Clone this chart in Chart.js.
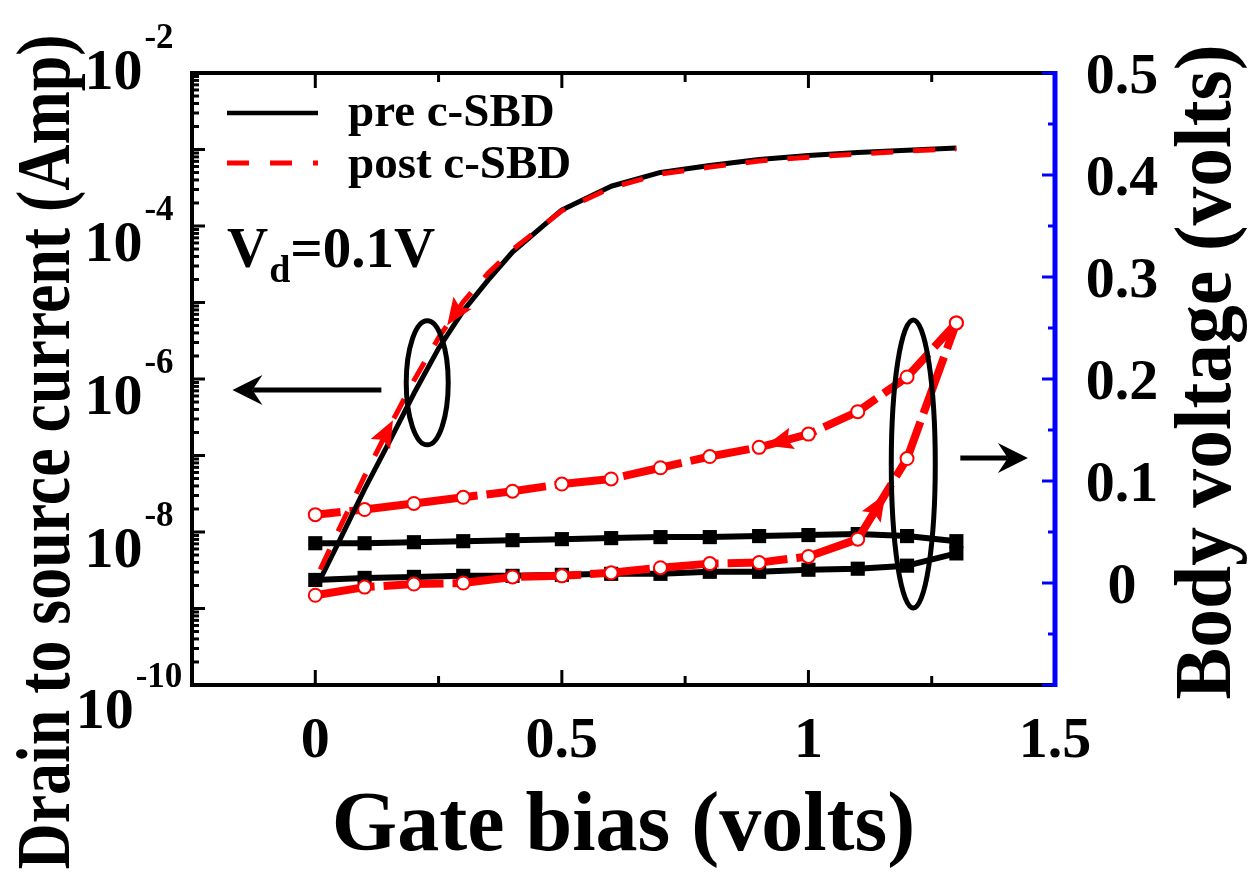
<!DOCTYPE html>
<html>
<head>
<meta charset="utf-8">
<title>Gate sweep before / after c-SBD</title>
<script src="https://cdn.jsdelivr.net/npm/chart.js@4.4.1/dist/chart.umd.min.js"></script>
<style>
  html, body { margin: 0; padding: 0; background: #fff; }
  #chart { display: block; }
</style>
</head>
<body>
<canvas id="chart" width="1255" height="883"></canvas>
<script>
// Id-Vg at Vd = 0.1 V (left, log) and floating body voltage (right),
// measured before and after the c-SBD stress.

// drain current sweep
const gateCur = [0.01, 0.05, 0.1, 0.15, 0.2, 0.25, 0.3, 0.35, 0.4, 0.5, 0.6, 0.7, 0.8, 0.9, 1.0, 1.1, 1.2, 1.3];
const idsPre  = [2.40e-9, 7.94e-9, 3.63e-8, 1.51e-7, 6.46e-7, 2.51e-6, 7.76e-6, 1.95e-5, 4.57e-5,
                 1.62e-4, 3.31e-4, 5.01e-4, 6.17e-4, 7.41e-4, 8.32e-4, 9.12e-4, 9.77e-4, 1.05e-3];
const idsPost = [3.24e-9, 1.15e-8, 5.37e-8, 2.34e-7, 9.55e-7, 3.47e-6, 1.02e-5, 2.40e-5, 4.90e-5,
                 1.58e-4, 3.16e-4, 4.79e-4, 5.89e-4, 7.08e-4, 7.94e-4, 8.71e-4, 9.55e-4, 1.02e-3];

// body voltage: forward sweep (up) and reverse sweep (down), both listed by gate bias
const gateVb    = [0, 0.1, 0.2, 0.3, 0.4, 0.5, 0.6, 0.7, 0.8, 0.9, 1.0, 1.1, 1.2, 1.3];
const vbPreFwd  = [0.003, 0.005, 0.006, 0.007, 0.007, 0.008, 0.009, 0.009, 0.011, 0.011, 0.013, 0.014, 0.017, 0.029];
const vbPreRev  = [0.039, 0.039, 0.040, 0.041, 0.042, 0.043, 0.044, 0.045, 0.045, 0.046, 0.047, 0.048, 0.046, 0.041];
const vbPostFwd = [-0.012, -0.004, -0.001, 0.000, 0.006, 0.007, 0.010, 0.015, 0.019, 0.020, 0.026, 0.043, 0.122, 0.255];
const vbPostRev = [0.067, 0.072, 0.078, 0.084, 0.090, 0.097, 0.102, 0.113, 0.124, 0.133, 0.146, 0.168, 0.202, 0.255];

// axis ticks
const xTickValues  = [0, 0.5, 1, 1.5];
const xTickLabels  = ['0', '0.5', '1', '1.5'];
const leftTickExps = [-2, -4, -6, -8, -10];
const rightTickValues = [0, 0.1, 0.2, 0.3, 0.4, 0.5];
const rightTickLabels = ['0', '0.1', '0.2', '0.3', '0.4', '0.5'];

const seriesNames = ['pre c-SBD', 'post c-SBD'];

const RED = '#ff0000';
const BLUE = '#0000ff';
const SERIF = '"Liberation Serif", "Times New Roman", serif';
const bold = px => `bold ${px}px ${SERIF}`;

const pts = (xs, ys) => xs.map((x, i) => ({ x, y: ys[i] }));
const loop = (xs, up, down) => pts(xs, up).concat(pts(xs, down).reverse());

// direction arrows sitting on the curves: dataset index, segment start, fraction, sense
const curveArrows = [
    { ds: 0, seg: 5, t: 0.35, sense: -1 },
    { ds: 0, seg: 3, t: 0.15, sense: 1 },
    { ds: 2, seg: 17, t: 0.86, sense: 1 },
    { ds: 2, seg: 11, t: 0.56, sense: 1 },
];

function arrowHead(ctx, tx, ty, ux, uy, len, half, notch) {
    const bx = tx - ux * len, by = ty - uy * len;
    const nx = -uy, ny = ux;
    ctx.beginPath();
    ctx.moveTo(tx, ty);
    ctx.lineTo(bx + nx * half, by + ny * half);
    ctx.lineTo(tx - ux * (len - notch), ty - uy * (len - notch));
    ctx.lineTo(bx - nx * half, by - ny * half);
    ctx.closePath();
    ctx.fill();
}

// centred text squeezed (or stretched) to a given run length
function fittedText(ctx, text, px, length) {
    ctx.font = bold(px);
    const w = ctx.measureText(text).width;
    ctx.save();
    ctx.scale(length / w, 1);
    ctx.textAlign = 'center';
    ctx.fillText(text, 0, 0);
    ctx.restore();
}

const figure = {
    id: 'figure',
    beforeDraw(chart) {
        const { ctx, width, height } = chart;
        ctx.save();
        ctx.fillStyle = '#fff';
        ctx.fillRect(0, 0, width, height);
        ctx.restore();
    },
    afterDatasetsDraw(chart) {
        const { ctx, chartArea: a } = chart;
        const { x, yI, yV } = chart.scales;
        ctx.save();

        // arrows on the curves
        ctx.fillStyle = RED;
        for (const ar of curveArrows) {
            const d = chart.getDatasetMeta(ar.ds).data;
            const p0 = d[ar.seg], p1 = d[ar.seg + 1];
            const tx = p0.x + (p1.x - p0.x) * ar.t;
            const ty = p0.y + (p1.y - p0.y) * ar.t;
            const ux = (p1.x - p0.x) * ar.sense, uy = (p1.y - p0.y) * ar.sense;
            const n = Math.hypot(ux, uy);
            arrowHead(ctx, tx, ty, ux / n, uy / n, 27, 11, 5);
        }

        // ellipses grouping the curves with their axis
        ctx.strokeStyle = '#000';
        ctx.lineWidth = 5;
        ctx.beginPath();
        ctx.ellipse(x.getPixelForValue(0.227), yI.getPixelForValue(8.9e-7), 21, 62, 0, 0, Math.PI * 2);
        ctx.stroke();
        ctx.beginPath();
        ctx.ellipse(x.getPixelForValue(1.2126), yV.getPixelForValue(0.1167), 22, 144, 0, 0, Math.PI * 2);
        ctx.stroke();

        // pointers to the left and right axes
        ctx.fillStyle = '#000';
        ctx.lineWidth = 5;
        const ly = yI.getPixelForValue(7.2e-7);
        const lx0 = x.getPixelForValue(0.134), lx1 = x.getPixelForValue(-0.168);
        ctx.beginPath(); ctx.moveTo(lx0, ly); ctx.lineTo(lx1 + 20, ly); ctx.stroke();
        arrowHead(ctx, lx1, ly, -1, 0, 30, 15, 10);
        const ry = yV.getPixelForValue(0.1225);
        const rx0 = x.getPixelForValue(1.308), rx1 = x.getPixelForValue(1.445);
        ctx.beginPath(); ctx.moveTo(rx0, ry); ctx.lineTo(rx1 - 20, ry); ctx.stroke();
        arrowHead(ctx, rx1, ry, 1, 0, 30, 15, 10);

        // frame
        ctx.lineCap = 'butt';
        ctx.strokeStyle = '#000';
        ctx.lineWidth = 4;
        ctx.beginPath();
        ctx.moveTo(a.right, a.top); ctx.lineTo(a.left, a.top);
        ctx.lineTo(a.left, a.bottom); ctx.lineTo(a.right, a.bottom);
        ctx.stroke();

        // x ticks, bottom and top, pointing inward
        ctx.lineWidth = 3;
        for (let v = -0.25; v <= 1.5001; v += 0.25) {
            const px = x.getPixelForValue(v);
            const major = Math.abs(v / 0.5 - Math.round(v / 0.5)) < 1e-6;
            const len = major ? 15 : 9;
            ctx.beginPath();
            ctx.moveTo(px, a.bottom); ctx.lineTo(px, a.bottom - len);
            ctx.moveTo(px, a.top); ctx.lineTo(px, a.top + len);
            ctx.stroke();
        }

        // log ticks on the left axis
        for (let e = -10; e <= -2; e++) {
            for (let k = 1; k <= 9; k++) {
                const v = k * Math.pow(10, e);
                if (v > 1.0001e-2) break;
                const py = yI.getPixelForValue(v);
                ctx.beginPath();
                ctx.moveTo(a.left, py); ctx.lineTo(a.left + (k === 1 ? 13 : 7), py);
                ctx.stroke();
            }
        }

        // right axis in blue
        ctx.strokeStyle = BLUE;
        for (let i = -2; i <= 10; i++) {
            const py = yV.getPixelForValue(i * 0.05);
            ctx.beginPath();
            ctx.moveTo(a.right, py); ctx.lineTo(a.right - (i % 2 === 0 ? 13 : 7), py);
            ctx.stroke();
        }
        ctx.lineWidth = 5;
        ctx.beginPath();
        ctx.moveTo(a.right, a.top - 2); ctx.lineTo(a.right, a.bottom + 2);
        ctx.stroke();

        // tick labels
        ctx.fillStyle = '#000';
        ctx.textBaseline = 'alphabetic';
        ctx.font = bold(58);
        ctx.textAlign = 'center';
        xTickValues.forEach((v, i) => {
            ctx.fillText(xTickLabels[i], x.getPixelForValue(v), a.bottom + 72);
        });
        rightTickValues.forEach((v, i) => {
            ctx.fillText(rightTickLabels[i], 1122, yV.getPixelForValue(v) + 20);
        });
        const shift = { '-2': 16, '-10': 43 };
        ctx.textAlign = 'left';
        for (const e of leftTickExps) {
            const base = yI.getPixelForValue(Math.pow(10, e)) + (shift[e] ?? 35);
            const sup = '-' + Math.abs(e);
            ctx.font = bold(58);
            const w10 = ctx.measureText('10').width;
            ctx.font = bold(35);
            const ws = ctx.measureText(sup).width;
            const x0 = 129 - (w10 + 2 + ws) / 2;
            ctx.font = bold(58);
            ctx.fillText('10', x0, base);
            ctx.font = bold(35);
            ctx.fillText(sup, x0 + w10 + 2, base - 41);
        }

        // axis titles
        ctx.font = bold(84);
        ctx.textAlign = 'center';
        ctx.fillText('Gate bias (volts)', (a.left + a.right) / 2, 850);

        ctx.save();
        ctx.translate(69, 452);
        ctx.rotate(-Math.PI / 2);
        fittedText(ctx, 'Drain to source current (Amp)', 76, 835);
        ctx.restore();

        ctx.save();
        ctx.translate(1230, 372);
        ctx.rotate(-Math.PI / 2);
        fittedText(ctx, 'Body voltage (volts)', 80, 655);
        ctx.restore();

        // legend
        ctx.lineCap = 'butt';
        ctx.strokeStyle = '#000';
        ctx.lineWidth = 4.5;
        ctx.beginPath(); ctx.moveTo(227, 113); ctx.lineTo(318, 113); ctx.stroke();
        ctx.strokeStyle = RED;
        ctx.lineWidth = 5;
        ctx.setLineDash([22, 21]);
        ctx.beginPath(); ctx.moveTo(227, 163); ctx.lineTo(318, 163); ctx.stroke();
        ctx.setLineDash([]);
        ctx.font = bold(47);
        ctx.textAlign = 'left';
        ctx.fillText(seriesNames[0], 348, 126);
        ctx.fillText(seriesNames[1], 348, 178);

        // bias condition
        ctx.font = bold(57);
        ctx.fillText('V', 227, 267);
        let cx = 227 + ctx.measureText('V').width + 1;
        ctx.font = bold(38);
        ctx.fillText('d', cx, 282);
        cx += ctx.measureText('d').width;
        ctx.font = bold(57);
        ctx.fillText('=0.1V', cx, 267);

        ctx.restore();
    }
};

new Chart(document.getElementById('chart'), {
    type: 'line',
    data: {
        datasets: [
            {
                label: seriesNames[1],
                data: pts(gateCur, idsPost),
                yAxisID: 'yI',
                borderColor: RED,
                borderWidth: 5,
                borderDash: [22, 20],
                pointRadius: 0,
                order: 0,
            },
            {
                label: seriesNames[0],
                data: pts(gateCur, idsPre),
                yAxisID: 'yI',
                borderColor: '#000',
                borderWidth: 5,
                pointRadius: 0,
                order: 1,
            },
            {
                label: seriesNames[1] + ' body',
                data: loop(gateVb, vbPostFwd, vbPostRev),
                yAxisID: 'yV',
                borderColor: RED,
                borderWidth: 8,
                borderDash: [60, 9],
                pointStyle: 'circle',
                pointRadius: 6.5,
                pointBorderWidth: 2,
                pointBackgroundColor: '#fff',
                pointBorderColor: RED,
                order: 2,
            },
            {
                label: seriesNames[0] + ' body',
                data: loop(gateVb, vbPreFwd, vbPreRev),
                yAxisID: 'yV',
                borderColor: '#000',
                borderWidth: 6,
                pointStyle: 'rect',
                pointRadius: 10,
                pointBorderWidth: 0,
                pointBackgroundColor: '#000',
                pointBorderColor: '#000',
                order: 3,
            },
        ],
    },
    options: {
        responsive: false,
        animation: false,
        devicePixelRatio: 1,
        layout: { padding: { left: 192, right: 200, top: 73, bottom: 198 } },
        elements: { line: { tension: 0, borderJoinStyle: 'round' } },
        plugins: { legend: { display: false }, tooltip: { enabled: false } },
        scales: {
            x:  { type: 'linear', min: -0.25, max: 1.5, display: false },
            yI: { type: 'logarithmic', min: 1e-10, max: 1e-2, display: false },
            yV: { type: 'linear', min: -0.1, max: 0.5, display: false },
        },
    },
    plugins: [figure],
});
</script>
</body>
</html>
